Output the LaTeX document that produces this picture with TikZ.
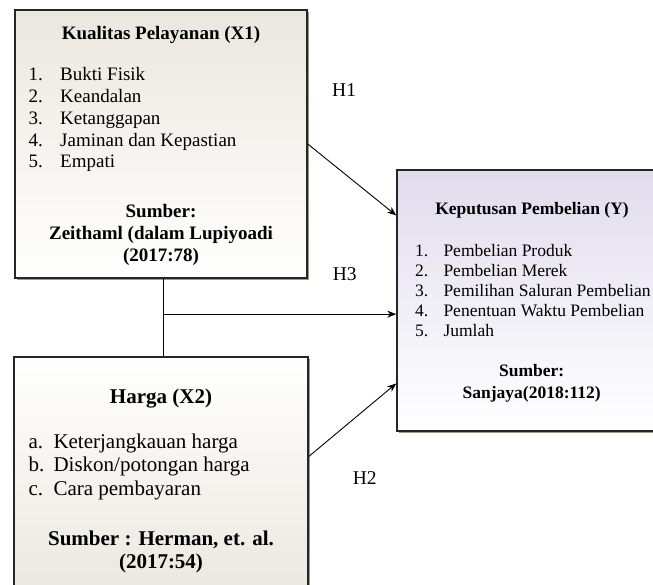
\documentclass[tikz,border=0pt]{standalone}
\usepackage{fontspec}
\setmainfont{Liberation Serif}
\usetikzlibrary{shapes,arrows.meta,positioning,calc,shadows}

\definecolor{beige}{RGB}{233,231,222}
\definecolor{lavender}{RGB}{224,220,236}
\definecolor{shadowgray}{RGB}{150,155,135}

\begin{document}
\begin{tikzpicture}[x=1pt,y=-1pt,
    varbox/.style={draw=black!85, line width=1.6pt, inner sep=0pt,
        drop shadow={shadow xshift=1.6pt, shadow yshift=-1.6pt, fill=shadowgray, opacity=1}},
    arr/.style={-{Stealth[length=9pt,width=7pt]}, line width=0.9pt},
    lbl/.style={inner sep=0pt, anchor=base west},
    fx/.style={font=\fontsize{19}{22}\selectfont},
    fy/.style={font=\fontsize{17.5}{20}\selectfont},
    fz/.style={font=\fontsize{21}{24}\selectfont}]
    \useasboundingbox (0,0) rectangle (653,585);
    \clip (0,0) rectangle (653,585);

    % boxes
    \node[varbox, top color=beige, bottom color=white, minimum width=292pt, minimum height=268pt] (x1) at (161,144) {};
    \node[varbox, top color=white, bottom color=beige, minimum width=294pt, minimum height=243pt] (x2) at (161,478.5) {};
    \node[varbox, top color=lavender, bottom color=white, minimum width=268pt, minimum height=261pt] (y) at (531,300.5) {};

    % Kualitas Pelayanan (X1)
    \node[lbl, anchor=base, font=\fontsize{19}{22}\selectfont\bfseries] (x1title) at (161,39.3) {Kualitas Pelayanan (X1)};
    \foreach \i/\t in {1/Bukti Fisik, 2/Keandalan, 3/Ketanggapan, 4/Jaminan dan Kepastian, 5/Empati} {
        \node[lbl, fx] (x1n\i) at (28.3,{81+21.75*(\i-1)}) {\i.};
        \node[lbl, fx] (x1t\i) at (60,{81+21.75*(\i-1)}) {\t};
    }
    \node[lbl, anchor=base, font=\fontsize{19}{22}\selectfont\bfseries] (x1src) at (161,218) {Sumber:};
    \node[lbl, anchor=base, font=\fontsize{19}{22}\selectfont\bfseries] (x1ref) at (161,240) {Zeithaml (dalam Lupiyoadi};
    \node[lbl, anchor=base, font=\fontsize{19}{22}\selectfont\bfseries] (x1yr) at (161,261.7) {(2017:78)};

    % Harga (X2)
    \node[lbl, anchor=base, font=\fontsize{21}{24}\selectfont\bfseries] (x2title) at (161,403.3) {Harga (X2)};
    \foreach \i/\l/\t in {1/a/{Keterjangkauan harga}, 2/b/{Diskon/potongan harga}, 3/c/{Cara pembayaran}} {
        \node[lbl, fz] (x2n\i) at (28.3,{448.3+23.35*(\i-1)}) {\l.};
        \node[lbl, fz] (x2t\i) at (53.3,{448.3+23.35*(\i-1)}) {\t};
    }
    \node[lbl, anchor=base, font=\fontsize{21}{24}\selectfont\bfseries] (x2src) at (161,545) {Sumber : Herman, et. al.};
    \node[lbl, anchor=base, font=\fontsize{21}{24}\selectfont\bfseries] (x2yr) at (161,568.3) {(2017:54)};

    % Keputusan Pembelian (Y)
    \node[lbl, anchor=base, font=\fontsize{17.5}{20}\selectfont\bfseries] (ytitle) at (532,215) {Keputusan Pembelian (Y)};
    \foreach \i/\t in {1/Pembelian Produk, 2/Pembelian Merek, 3/Pemilihan Saluran Pembelian, 4/Penentuan Waktu Pembelian, 5/Jumlah} {
        \node[lbl, fy] (yn\i) at (415,{256.7+20*(\i-1)}) {\i.};
        \node[lbl, fy] (yt\i) at (443.3,{256.7+20*(\i-1)}) {\t};
    }
    \node[lbl, anchor=base, font=\fontsize{17.5}{20}\selectfont\bfseries] (ysrc) at (531.7,376.7) {Sumber:};
    \node[lbl, anchor=base, font=\fontsize{17.5}{20}\selectfont\bfseries] (yref) at (531.7,398.3) {Sanjaya(2018:112)};

    % hipotesis
    \coordinate (h1end) at ($(y.north west)!0.176!(y.south west)$);
    \coordinate (h2start) at ($(x2.north east)!0.41!(x2.south east)$);
    \coordinate (h2end) at ($(y.north west)!0.816!(y.south west)$);
    \coordinate (h3end) at ($(y.north west)!0.552!(y.south west)$);

    \draw[arr] (x1.east) -- (h1end);
    \draw[arr] (h2start) -- (h2end);
    \draw[line width=0.9pt] ([xshift=2pt]x1.south) -- ([xshift=2pt]x2.north);
    \draw[arr] ([xshift=2pt]x1.south |- h3end) -- (h3end);

    \node[lbl, font=\fontsize{19.5}{22}\selectfont] (h1) at (332,97) {H1};
    \node[lbl, font=\fontsize{19.5}{22}\selectfont] (h3) at (332.7,280) {H3};
    \node[lbl, font=\fontsize{19.5}{22}\selectfont] (h2) at (352.7,484) {H2};
\end{tikzpicture}
\end{document}
